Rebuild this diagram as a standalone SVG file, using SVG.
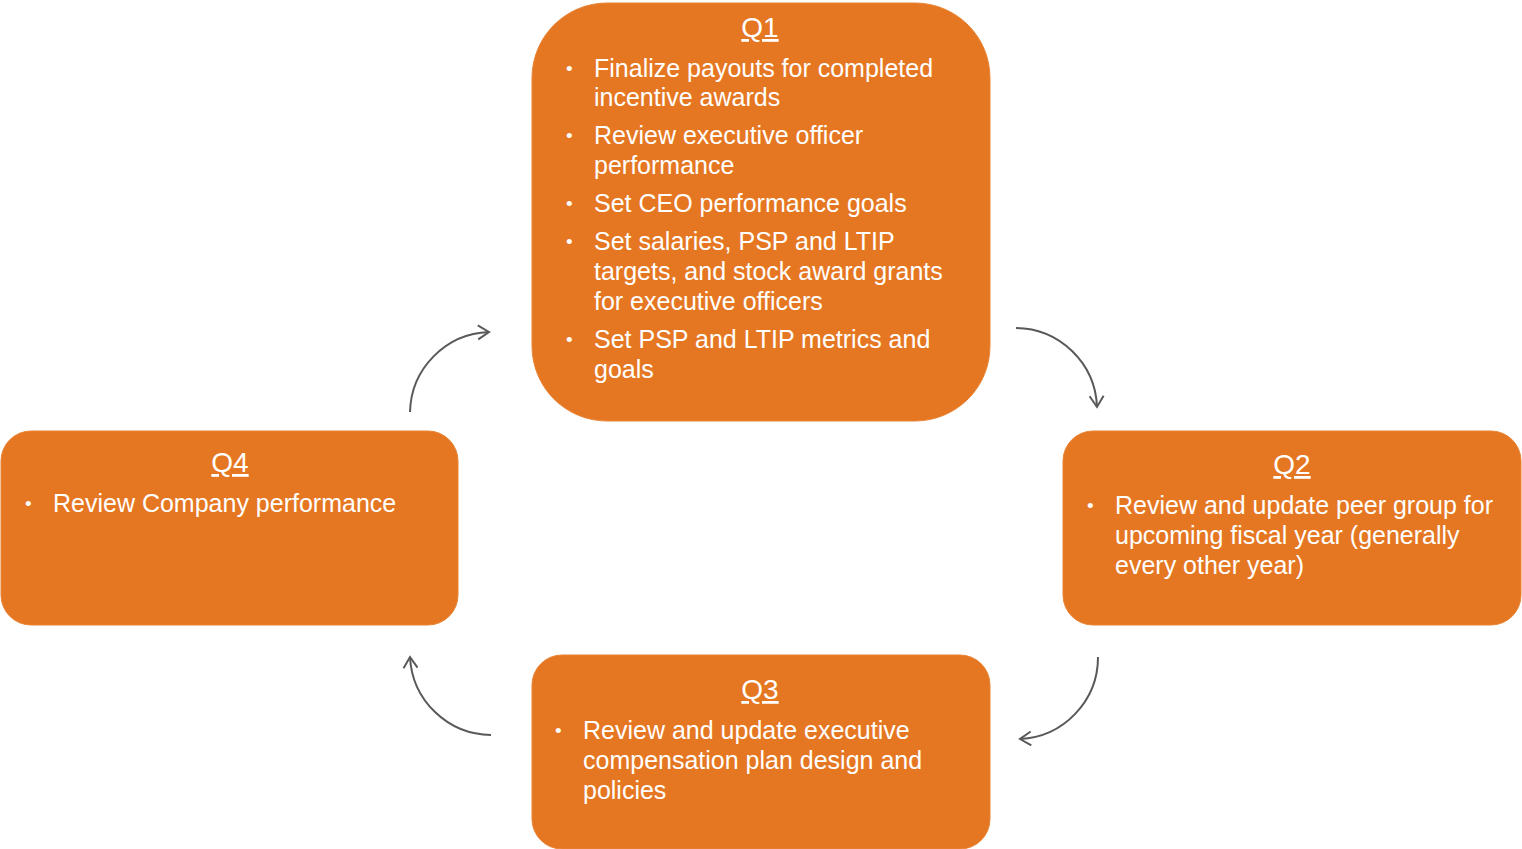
<svg xmlns="http://www.w3.org/2000/svg" width="1522" height="849" viewBox="0 0 1522 849">
<style>
.box{fill:#E67722;stroke:#E98434;stroke-width:1}
.t{font-family:"Liberation Sans",Arial,sans-serif;font-size:25px;fill:#FFFFFF}
.h{text-decoration:underline;text-anchor:middle;font-size:28px}
.b{font-size:19px}
.c{fill:none;stroke:#595959;stroke-width:2}
</style>
<defs>
<marker id="arr" markerUnits="userSpaceOnUse" markerWidth="20" markerHeight="20" refX="13" refY="8" orient="auto">
<path d="M2,1 L13,8 L2,15" fill="none" stroke="#595959" stroke-width="2"/>
</marker>
</defs>
<rect width="1522" height="849" fill="#FFFFFF"/>
<g id="q1">
<rect class="box" x="532" y="3" width="458" height="418" rx="75" ry="75"/>
<text class="t h" x="760" y="37">Q1</text>
<text class="t b" x="566" y="75">•</text>
<text class="t" x="594" y="77">Finalize payouts for completed</text>
<text class="t" x="594" y="106">incentive awards</text>
<text class="t b" x="566" y="142">•</text>
<text class="t" x="594" y="144">Review executive officer</text>
<text class="t" x="594" y="174">performance</text>
<text class="t b" x="566" y="210">•</text>
<text class="t" x="594" y="212">Set CEO performance goals</text>
<text class="t b" x="566" y="248">•</text>
<text class="t" x="594" y="250">Set salaries, PSP and LTIP</text>
<text class="t" x="594" y="280">targets, and stock award grants</text>
<text class="t" x="594" y="310">for executive officers</text>
<text class="t b" x="566" y="346">•</text>
<text class="t" x="594" y="348">Set PSP and LTIP metrics and</text>
<text class="t" x="594" y="378">goals</text>
</g>
<g id="q2">
<rect class="box" x="1063" y="431" width="458" height="194" rx="30" ry="30"/>
<text class="t h" x="1292" y="474">Q2</text>
<text class="t b" x="1087" y="512">•</text>
<text class="t" x="1115" y="514">Review and update peer group for</text>
<text class="t" x="1115" y="544">upcoming fiscal year (generally</text>
<text class="t" x="1115" y="574">every other year)</text>
</g>
<g id="q3">
<rect class="box" x="532" y="655" width="458" height="194" rx="30" ry="30"/>
<text class="t h" x="760" y="699">Q3</text>
<text class="t b" x="555" y="737">•</text>
<text class="t" x="583" y="739">Review and update executive</text>
<text class="t" x="583" y="769">compensation plan design and</text>
<text class="t" x="583" y="799">policies</text>
</g>
<g id="q4">
<rect class="box" x="1" y="431" width="457" height="194" rx="30" ry="30"/>
<text class="t h" x="230" y="472">Q4</text>
<text class="t b" x="25" y="510">•</text>
<text class="t" x="53" y="512">Review Company performance</text>
</g>
<g id="connectors">
<path class="c" d="M410,412 A82,82 0 0 1 489,332" marker-end="url(#arr)"/>
<path class="c" d="M1016,328 A82,82 0 0 1 1097,407" marker-end="url(#arr)"/>
<path class="c" d="M1098,657 A82,82 0 0 1 1020,739" marker-end="url(#arr)"/>
<path class="c" d="M491,735 A82,82 0 0 1 410,657" marker-end="url(#arr)"/>
</g>
</svg>
